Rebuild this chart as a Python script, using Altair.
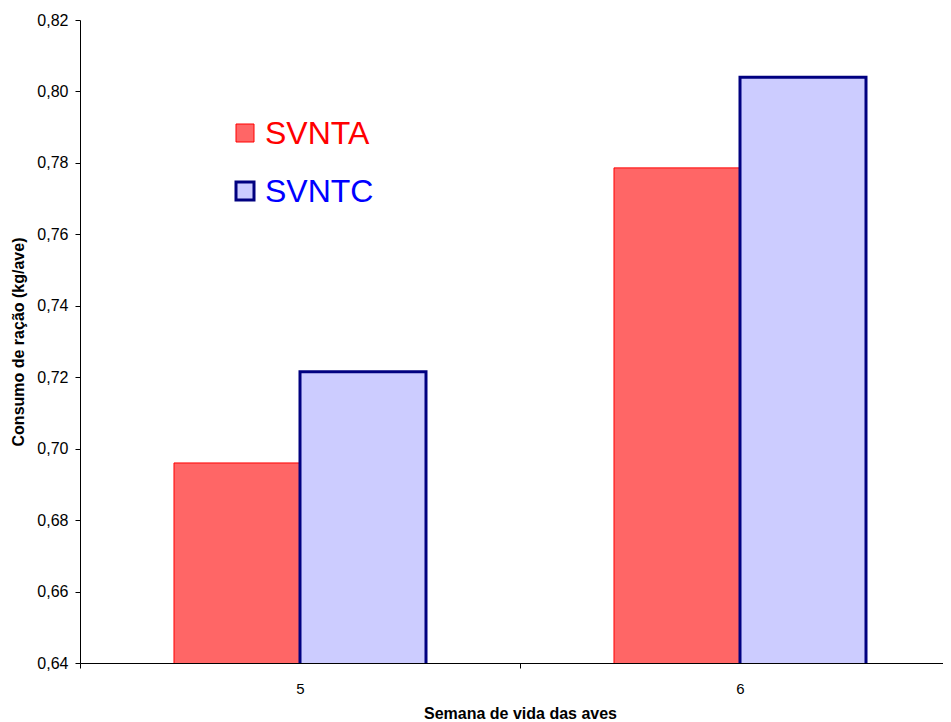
import altair as alt
import pandas as pd

weeks = ["5", "6"]
series = ["SVNTA", "SVNTC"]
svnta = [0.696, 0.7786]
svntc = [0.7215, 0.804]

rows = []
for i, w in enumerate(weeks):
    rows.append({"week": w, "series": "SVNTA", "value": svnta[i]})
    rows.append({"week": w, "series": "SVNTC", "value": svntc[i]})
df = pd.DataFrame(rows)
leg_df = pd.DataFrame({"series": series})

fill_colors = ["#FF6666", "#CCCCFF"]
stroke_colors = ["#FF0000", "#000080"]
label_colors = ["#FF0000", "#0000FF"]

FONT = "Liberation Sans"
is_a = "datum.series == 'SVNTA'"

bars = alt.Chart(df).mark_bar(clip=True).encode(
    x=alt.X(
        "week:N",
        scale=alt.Scale(range=[0, 880], paddingInner=0, paddingOuter=0),
        axis=alt.Axis(
            title="Semana de vida das aves",
            labelAngle=0,
            tickBand="extent",
            tickSize=5,
            labelPadding=13,
            labelFontSize=15,
            labelFont=FONT,
            labelColor="black",
            titleFont=FONT,
            titleFontSize=16,
            titleFontWeight="bold",
            titleColor="black",
            titlePadding=9,
            domainColor="black",
            tickColor="black",
        ),
    ),
    xOffset=alt.XOffset("series:N", scale=alt.Scale(domain=series, paddingOuter=0.746, paddingInner=0)),
    y=alt.Y(
        "value:Q",
        scale=alt.Scale(domain=[0.64, 0.82], zero=False, nice=False),
        axis=alt.Axis(
            title="Consumo de ração (kg/ave)",
            values=[0.64, 0.66, 0.68, 0.70, 0.72, 0.74, 0.76, 0.78, 0.80, 0.82],
            labelExpr="replace(format(datum.value, '.2f'), '.', ',')",
            grid=False,
            tickSize=5,
            labelPadding=7,
            labelFontSize=16,
            labelFont=FONT,
            labelColor="black",
            titleFont=FONT,
            titleFontSize=16,
            titleFontWeight="bold",
            titleColor="black",
            titlePadding=10,
            domainColor="black",
            tickColor="black",
        ),
    ),
    fill=alt.Fill("series:N", scale=alt.Scale(domain=series, range=fill_colors), legend=None),
    stroke=alt.Stroke("series:N", scale=alt.Scale(domain=series, range=stroke_colors), legend=None),
    strokeWidth=alt.condition(is_a, alt.value(1), alt.value(3)),
)

leg_y = alt.Y("series:N", scale=alt.Scale(type="point", domain=series, range=[113, 171], padding=0), axis=None)

leg_sq = alt.Chart(leg_df).mark_square(size=324, opacity=1).encode(
    x=alt.value(165),
    y=leg_y,
    fill=alt.condition(is_a, alt.value(fill_colors[0]), alt.value(fill_colors[1])),
    stroke=alt.condition(is_a, alt.value(stroke_colors[0]), alt.value(stroke_colors[1])),
    strokeWidth=alt.condition(is_a, alt.value(1), alt.value(3)),
)

leg_tx = alt.Chart(leg_df).mark_text(align="left", baseline="middle", font=FONT, fontSize=32, dy=1).encode(
    x=alt.value(185),
    y=leg_y,
    text="series:N",
    fill=alt.condition(is_a, alt.value(label_colors[0]), alt.value(label_colors[1])),
)

legend = alt.layer(leg_sq, leg_tx)

chart = alt.layer(bars, legend).resolve_scale(
    y="independent", fill="independent", stroke="independent"
).properties(
    width=863,
    height=643,
    autosize=alt.AutoSizeParams(type="none"),
    padding={"left": 72, "top": 12, "right": 0, "bottom": 59},
).configure_view(stroke=None)

chart.save("out.html", embed_options={"renderer": "svg", "actions": False})
